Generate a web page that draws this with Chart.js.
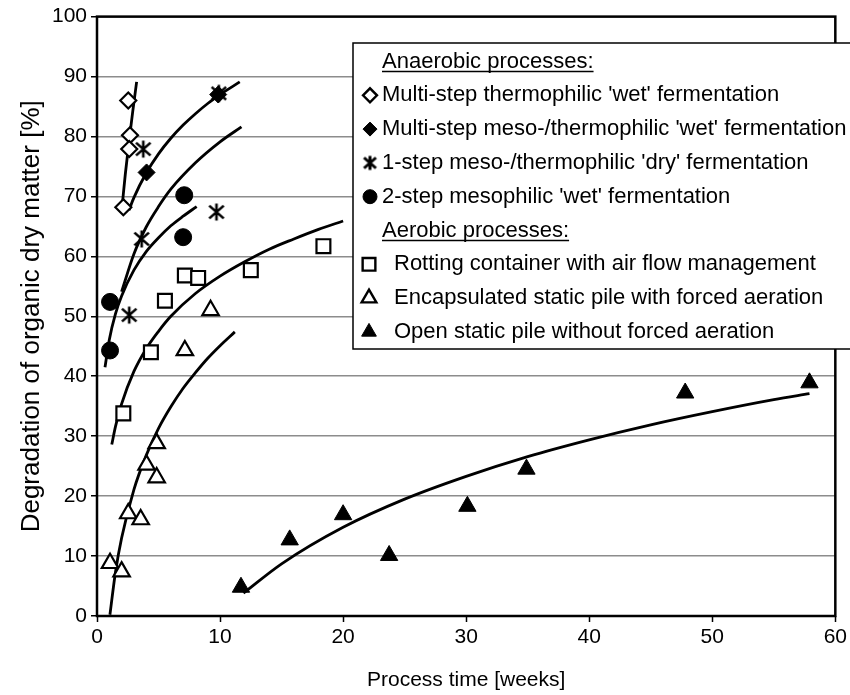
<!DOCTYPE html>
<html>
<head>
<meta charset="utf-8">
<script src="https://cdn.jsdelivr.net/npm/chart.js@4.4.1/dist/chart.umd.min.js"></script>
<style>
  html, body { margin: 0; padding: 0; background: #fff; }
  #wrap { width: 850px; height: 695px; }
</style>
</head>
<body>
<div id="wrap"><canvas id="chart" width="850" height="695"></canvas></div>
<script>
// Anaerobic processes (x = weeks, y = %)
var thermoWetX = [2.54, 2.68, 2.62, 2.14];
var thermoWetY = [86.0, 80.2, 77.9, 68.2];
var mesoWetX = [4.03, 9.85];
var mesoWetY = [74.0, 87.0];
var dryX = [2.62, 3.63, 3.76, 9.71, 9.9];
var dryY = [50.2, 62.9, 77.9, 67.4, 87.2];
var twoStepX = [1.06, 1.06, 7.0, 7.09];
var twoStepY = [52.4, 44.3, 63.2, 70.2];

// Aerobic processes
var containerX = [2.14, 4.38, 5.52, 7.14, 8.22, 12.5, 18.4];
var containerY = [33.8, 44.0, 52.6, 56.8, 56.4, 57.7, 61.7];
var encapX = [1.06, 2.0, 2.54, 3.55, 4.03, 4.85, 4.85, 7.14, 9.23];
var encapY = [8.8, 7.4, 17.1, 16.1, 25.2, 23.1, 28.8, 44.3, 51.0];
var openPileX = [11.7, 15.66, 20.0, 23.74, 30.1, 34.9, 47.8, 57.9];
var openPileY = [4.8, 12.7, 16.9, 10.1, 18.3, 24.5, 37.2, 38.9];

// trend curves, points
var thermoWetTrendX = [2.05, 2.3, 2.6, 2.9, 3.22];
var thermoWetTrendY = [68.5, 73.7, 79.1, 84.1, 89.1];
var mesoWetTrendX = [2.6, 3, 4, 5, 6, 7, 8, 9, 10, 11.6];
var mesoWetTrendY = [67.7, 69.8, 73.9, 77.1, 79.7, 81.9, 83.8, 85.5, 87.0, 89.1];
var dryTrendX = [2.0, 3, 4, 5, 6, 8, 10, 11.74];
var dryTrendY = [54.1, 60.4, 64.9, 68.3, 71.2, 75.6, 79.1, 81.6];
var twoStepTrendX = [0.65, 1, 1.5, 2, 3, 4, 5, 6, 7, 8.1];
var twoStepTrendY = [41.5, 46.1, 50.4, 53.4, 57.7, 60.8, 63.1, 65.1, 66.7, 68.3];
var containerTrendX = [1.2, 1.5, 2, 3, 4, 5, 6, 8, 10, 12, 14, 16, 18, 20];
var containerTrendY = [28.6, 31.6, 35.4, 40.8, 44.6, 47.5, 50.0, 53.8, 56.7, 59.1, 61.2, 62.9, 64.5, 65.9];
var encapTrendX = [1.05, 1.5, 2, 3, 4, 5, 6, 7, 8, 9, 10, 11.2];
var encapTrendY = [0.2, 7.3, 13.0, 21.1, 26.8, 31.3, 34.9, 38.0, 40.6, 43.0, 45.1, 47.4];
var openPileTrendX = [11.9, 15, 20, 25, 30, 35, 40, 45, 50, 55, 57.9];
var openPileTrendY = [3.8, 8.7, 14.8, 19.5, 23.3, 26.6, 29.4, 31.9, 34.1, 36.1, 37.1];

var xTicks = [0, 10, 20, 30, 40, 50, 60];
var yTicks = [0, 10, 20, 30, 40, 50, 60, 70, 80, 90, 100];

var legendRows = [
  {head: true, text: 'Anaerobic processes:'},
  {style: 'rectRot', fill: false, text: "Multi-step thermophilic 'wet' fermentation"},
  {style: 'rectRot', fill: true, text: "Multi-step meso-/thermophilic 'wet' fermentation"},
  {style: 'asterisk', fill: false, text: "1-step meso-/thermophilic 'dry' fermentation"},
  {style: 'circle', fill: true, text: "2-step mesophilic 'wet' fermentation"},
  {head: true, text: 'Aerobic processes:'},
  {style: 'rect', fill: false, text: 'Rotting container with air flow management', wide: true},
  {style: 'triangle', fill: false, text: 'Encapsulated static pile with forced aeration', wide: true},
  {style: 'triangle', fill: true, text: 'Open static pile without forced aeration', wide: true}
];

var FONT = '"Liberation Sans", Arial, sans-serif';

function pairs(xs, ys) {
  var out = [];
  for (var i = 0; i < xs.length; i++) out.push({x: xs[i], y: ys[i]});
  return out;
}

// excel-like asterisk marker (X plus vertical bar)
function makeAsterisk(size, lw) {
  var c = document.createElement('canvas');
  c.width = size; c.height = size;
  var g = c.getContext('2d');
  var m = size / 2, h = size / 2 - 1.5, w = h * 0.85;
  g.strokeStyle = '#000';
  g.lineWidth = lw;
  g.beginPath();
  g.moveTo(m, m - h); g.lineTo(m, m + h);
  g.moveTo(m - w, m - h * 0.75); g.lineTo(m + w, m + h * 0.75);
  g.moveTo(m - w, m + h * 0.75); g.lineTo(m + w, m - h * 0.75);
  g.stroke();
  return c;
}
var asterisk = makeAsterisk(20, 2.6);
var asteriskSmall = makeAsterisk(17, 3);

function markers(label, xs, ys, style, filled, radius) {
  return {
    label: label,
    data: pairs(xs, ys),
    pointStyle: style,
    pointRadius: radius,
    pointBorderWidth: filled ? 1 : 2.2,
    pointBorderColor: '#000',
    pointBackgroundColor: filled ? '#000' : '#fff',
    showLine: false,
    clip: false
  };
}

function trend(xs, ys) {
  return {
    label: 'trend',
    data: pairs(xs, ys),
    showLine: true,
    borderColor: '#000',
    borderWidth: 2.8,
    pointRadius: 0,
    cubicInterpolationMode: 'monotone',
    clip: false
  };
}

var framePlugin = {
  id: 'frame',
  afterDraw: function (chart) {
    var a = chart.chartArea, ctx = chart.ctx;
    ctx.save();
    ctx.strokeStyle = '#000';
    ctx.lineWidth = 2.5;
    ctx.strokeRect(a.left, a.top, a.right - a.left, a.bottom - a.top);
    ctx.restore();
  }
};

var legendPlugin = {
  id: 'boxLegend',
  afterDraw: function (chart) {
    var ctx = chart.ctx;
    var left = 353, top = 43, bottom = 349;
    ctx.save();
    ctx.fillStyle = '#fff';
    ctx.fillRect(left, top, 520, bottom - top);
    ctx.strokeStyle = '#000';
    ctx.lineWidth = 1.5;
    ctx.strokeRect(left, top, 520, bottom - top);
    ctx.font = '22px ' + FONT;
    ctx.textBaseline = 'middle';
    ctx.textAlign = 'left';
    legendRows.forEach(function (row, i) {
      var y = top + 18.5 + i * 33.8;
      ctx.fillStyle = '#000';
      if (row.head) {
        ctx.fillText(row.text, 382, y);
        var w = ctx.measureText(row.text).width;
        ctx.lineWidth = 1.3;
        ctx.beginPath();
        ctx.moveTo(382, y + 10);
        ctx.lineTo(382 + w, y + 10);
        ctx.stroke();
        return;
      }
      var mx = row.wide ? 369 : 370;
      if (row.style === 'asterisk') {
        ctx.drawImage(asteriskSmall, mx - 8.5, y - 8.5);
      } else {
        ctx.fillStyle = row.fill ? '#000' : '#fff';
        ctx.strokeStyle = '#000';
        ctx.lineWidth = row.fill ? 1 : 2.4;
        var r = row.style === 'rect' ? 9 : (row.style === 'triangle' ? 8.5 : 7);
        Chart.helpers.drawPoint(ctx, {pointStyle: row.style, radius: r, rotation: 0, borderWidth: ctx.lineWidth}, mx, y);
      }
      ctx.fillStyle = '#000';
      ctx.fillText(row.text, row.wide ? 394 : 382, y);
    });
    ctx.restore();
  }
};

new Chart(document.getElementById('chart'), {
  type: 'scatter',
  data: {
    datasets: [
      markers("Multi-step thermophilic 'wet' fermentation", thermoWetX, thermoWetY, 'rectRot', false, 8),
      markers("Multi-step meso-/thermophilic 'wet' fermentation", mesoWetX, mesoWetY, 'rectRot', true, 8.5),
      markers("1-step meso-/thermophilic 'dry' fermentation", dryX, dryY, asterisk, false, 8),
      markers("2-step mesophilic 'wet' fermentation", twoStepX, twoStepY, 'circle', true, 8.5),
      markers('Rotting container with air flow management', containerX, containerY, 'rect', false, 9.8),
      markers('Encapsulated static pile with forced aeration', encapX, encapY, 'triangle', false, 9.5),
      markers('Open static pile without forced aeration', openPileX, openPileY, 'triangle', true, 10),
      trend(thermoWetTrendX, thermoWetTrendY),
      trend(mesoWetTrendX, mesoWetTrendY),
      trend(dryTrendX, dryTrendY),
      trend(twoStepTrendX, twoStepTrendY),
      trend(containerTrendX, containerTrendY),
      trend(encapTrendX, encapTrendY),
      trend(openPileTrendX, openPileTrendY)
    ]
  },
  options: {
    responsive: false,
    animation: false,
    devicePixelRatio: 1,
    layout: {padding: {top: 16, right: 14, left: 0, bottom: 0}},
    plugins: {legend: {display: false}, tooltip: {enabled: false}},
    scales: {
      x: {
        type: 'linear',
        min: 0, max: 60,
        afterBuildTicks: function (s) { s.ticks = xTicks.map(function (v) { return {value: v}; }); },
        afterFit: function (s) { s.height = 79; },
        grid: {drawOnChartArea: false, tickLength: 6, tickColor: '#000', tickWidth: 1.5},
        border: {display: false},
        ticks: {color: '#000', font: {family: FONT, size: 21}, padding: 3, maxRotation: 0},
        title: {display: true, text: 'Process time [weeks]', color: '#000', font: {family: FONT, size: 21}, padding: {top: 0, bottom: 2}}
      },
      y: {
        type: 'linear',
        min: 0, max: 100,
        afterBuildTicks: function (s) { s.ticks = yTicks.map(function (v) { return {value: v}; }); },
        afterFit: function (s) { s.width = 97; },
        grid: {color: '#8c8c8c', lineWidth: 1.5, tickLength: 6, tickColor: '#000'},
        border: {display: false},
        ticks: {color: '#000', font: {family: FONT, size: 21}, padding: 4},
        title: {display: true, text: 'Degradation of organic dry matter [%]', color: '#000', font: {family: FONT, size: 26}, padding: {top: 16, bottom: 0}}
      }
    }
  },
  plugins: [framePlugin, legendPlugin]
});
</script>
</body>
</html>
